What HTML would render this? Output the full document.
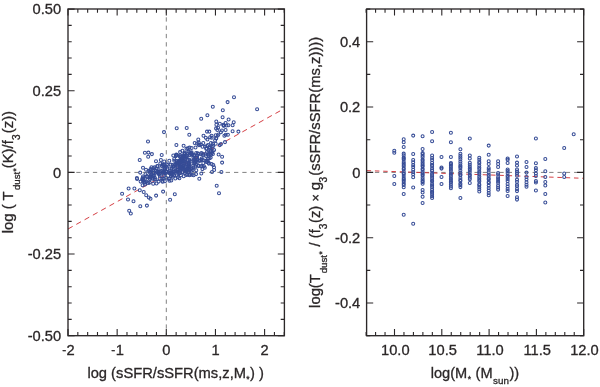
<!DOCTYPE html>
<html lang="en"><head><meta charset="utf-8"><title>Dust temperature scaling relations</title>
<style>html,body{margin:0;padding:0;background:#fff;overflow:hidden}body{width:600px;height:387px}svg{display:block;will-change:transform}</style>
</head><body>
<svg width="600" height="387" viewBox="0 0 600 387" style="display:block">
<rect width="600" height="387" fill="#fff"/>
<g fill="none" stroke-width="1">
<path d="M68.0 172.40H284.4M166.30 9.0V335.7" stroke="#808080" stroke-dasharray="4.3 4.0"/>
<path d="M366.6 172.40H583.7" stroke="#808080" stroke-dasharray="4.3 4.0"/>
<path d="M68.0 229L284.4 108.5" stroke="#d2353a" stroke-width="0.95" stroke-dasharray="5.3 4.2"/>
<path d="M366.6 170.6L583.7 178.3" stroke="#d2353a" stroke-width="0.95" stroke-dasharray="4.5 3.8"/>
</g>
<g fill="none" stroke="#364c96" stroke-width="1.05">
<circle cx="176.7" cy="128.3" r="1.5"/>
<circle cx="186.7" cy="128.0" r="1.5"/>
<circle cx="164.0" cy="132.1" r="1.5"/>
<circle cx="189.3" cy="134.7" r="1.5"/>
<circle cx="148.0" cy="141.4" r="1.5"/>
<circle cx="176.4" cy="145.0" r="1.5"/>
<circle cx="183.6" cy="145.8" r="1.5"/>
<circle cx="144.9" cy="152.8" r="1.5"/>
<circle cx="148.4" cy="152.6" r="1.5"/>
<circle cx="151.9" cy="154.1" r="1.5"/>
<circle cx="148.2" cy="156.7" r="1.5"/>
<circle cx="161.7" cy="154.9" r="1.5"/>
<circle cx="139.7" cy="160.0" r="1.5"/>
<circle cx="156.0" cy="161.3" r="1.5"/>
<circle cx="160.9" cy="160.0" r="1.5"/>
<circle cx="143.0" cy="167.8" r="1.5"/>
<circle cx="150.6" cy="169.1" r="1.5"/>
<circle cx="137.1" cy="178.9" r="1.5"/>
<circle cx="128.6" cy="188.4" r="1.5"/>
<circle cx="134.4" cy="188.4" r="1.5"/>
<circle cx="122.1" cy="193.8" r="1.5"/>
<circle cx="128.0" cy="199.5" r="1.5"/>
<circle cx="133.5" cy="201.3" r="1.5"/>
<circle cx="140.3" cy="206.2" r="1.5"/>
<circle cx="146.9" cy="205.6" r="1.5"/>
<circle cx="129.2" cy="210.7" r="1.5"/>
<circle cx="130.8" cy="213.5" r="1.5"/>
<circle cx="170.1" cy="199.7" r="1.5"/>
<circle cx="174.8" cy="194.2" r="1.5"/>
<circle cx="156.1" cy="195.6" r="1.5"/>
<circle cx="163.1" cy="191.6" r="1.5"/>
<circle cx="148.8" cy="197.5" r="1.5"/>
<circle cx="234.0" cy="97.2" r="1.5"/>
<circle cx="227.6" cy="102.1" r="1.5"/>
<circle cx="257.1" cy="109.3" r="1.5"/>
<circle cx="212.8" cy="106.7" r="1.5"/>
<circle cx="222.8" cy="110.2" r="1.5"/>
<circle cx="207.4" cy="115.3" r="1.5"/>
<circle cx="201.2" cy="118.8" r="1.5"/>
<circle cx="222.6" cy="117.2" r="1.5"/>
<circle cx="228.6" cy="119.5" r="1.5"/>
<circle cx="216.3" cy="121.4" r="1.5"/>
<circle cx="233.7" cy="122.3" r="1.5"/>
<circle cx="219.8" cy="123.7" r="1.5"/>
<circle cx="223.3" cy="124.7" r="1.5"/>
<circle cx="225.6" cy="123.0" r="1.5"/>
<circle cx="228.4" cy="125.3" r="1.5"/>
<circle cx="232.6" cy="125.3" r="1.5"/>
<circle cx="218.1" cy="127.7" r="1.5"/>
<circle cx="225.6" cy="130.0" r="1.5"/>
<circle cx="232.6" cy="131.2" r="1.5"/>
<circle cx="238.4" cy="131.6" r="1.5"/>
<circle cx="207.0" cy="131.6" r="1.5"/>
<circle cx="209.3" cy="131.6" r="1.5"/>
<circle cx="217.4" cy="130.0" r="1.5"/>
<circle cx="220.9" cy="132.3" r="1.5"/>
<circle cx="224.4" cy="135.8" r="1.5"/>
<circle cx="227.9" cy="134.7" r="1.5"/>
<circle cx="203.5" cy="135.8" r="1.5"/>
<circle cx="205.8" cy="137.7" r="1.5"/>
<circle cx="211.6" cy="135.8" r="1.5"/>
<circle cx="215.1" cy="140.5" r="1.5"/>
<circle cx="216.3" cy="138.1" r="1.5"/>
<circle cx="219.8" cy="145.1" r="1.5"/>
<circle cx="221.0" cy="144.0" r="1.5"/>
<circle cx="218.6" cy="154.4" r="1.5"/>
<circle cx="222.1" cy="156.7" r="1.5"/>
<circle cx="222.1" cy="162.6" r="1.5"/>
<circle cx="214.0" cy="167.2" r="1.5"/>
<circle cx="216.7" cy="185.8" r="1.5"/>
<circle cx="219.0" cy="193.3" r="1.5"/>
<circle cx="221.4" cy="171.9" r="1.5"/>
<circle cx="212.0" cy="172.0" r="1.5"/>
<circle cx="213.3" cy="165.0" r="1.5"/>
<circle cx="199.3" cy="178.8" r="1.5"/>
<circle cx="144.9" cy="179.0" r="1.5"/>
<circle cx="142.6" cy="185.3" r="1.5"/>
<circle cx="139.8" cy="190.2" r="1.5"/>
<circle cx="143.7" cy="191.9" r="1.5"/>
<circle cx="140.2" cy="172.6" r="1.5"/>
<circle cx="146.0" cy="169.8" r="1.5"/>
<circle cx="226.5" cy="125.5" r="1.5"/>
<circle cx="221.9" cy="130.5" r="1.5"/>
<circle cx="215.7" cy="135.2" r="1.5"/>
<circle cx="225.7" cy="134.8" r="1.5"/>
<circle cx="198.3" cy="139.5" r="1.5"/>
<circle cx="194.7" cy="143.0" r="1.5"/>
<circle cx="203.3" cy="143.0" r="1.5"/>
<circle cx="215.7" cy="143.7" r="1.5"/>
<circle cx="225.0" cy="142.1" r="1.5"/>
<circle cx="187.8" cy="148.3" r="1.5"/>
<circle cx="191.6" cy="147.9" r="1.5"/>
<circle cx="202.5" cy="146.8" r="1.5"/>
<circle cx="207.1" cy="146.0" r="1.5"/>
<circle cx="213.3" cy="146.0" r="1.5"/>
<circle cx="214.1" cy="149.9" r="1.5"/>
<circle cx="146.2" cy="195.2" r="1.5"/>
<circle cx="150.5" cy="198.8" r="1.5"/>
<circle cx="214.1" cy="170.0" r="1.5"/>
<circle cx="208.7" cy="162.8" r="1.5"/>
<circle cx="203.3" cy="163.0" r="1.5"/>
<circle cx="204.8" cy="167.7" r="1.5"/>
<circle cx="136.9" cy="178.0" r="1.5"/>
<circle cx="197.2" cy="159.5" r="1.5"/>
<circle cx="178.4" cy="172.8" r="1.5"/>
<circle cx="206.5" cy="160.6" r="1.5"/>
<circle cx="184.2" cy="156.2" r="1.5"/>
<circle cx="184.7" cy="153.3" r="1.5"/>
<circle cx="198.7" cy="166.1" r="1.5"/>
<circle cx="176.3" cy="154.5" r="1.5"/>
<circle cx="179.9" cy="160.4" r="1.5"/>
<circle cx="180.2" cy="155.5" r="1.5"/>
<circle cx="175.0" cy="165.1" r="1.5"/>
<circle cx="151.2" cy="174.3" r="1.5"/>
<circle cx="211.1" cy="154.4" r="1.5"/>
<circle cx="189.4" cy="175.2" r="1.5"/>
<circle cx="163.2" cy="165.8" r="1.5"/>
<circle cx="158.1" cy="173.3" r="1.5"/>
<circle cx="212.7" cy="151.0" r="1.5"/>
<circle cx="165.7" cy="166.6" r="1.5"/>
<circle cx="177.8" cy="170.0" r="1.5"/>
<circle cx="196.0" cy="161.6" r="1.5"/>
<circle cx="190.1" cy="174.5" r="1.5"/>
<circle cx="204.0" cy="166.2" r="1.5"/>
<circle cx="184.1" cy="160.6" r="1.5"/>
<circle cx="189.2" cy="159.8" r="1.5"/>
<circle cx="198.7" cy="142.6" r="1.5"/>
<circle cx="195.0" cy="160.1" r="1.5"/>
<circle cx="175.3" cy="178.5" r="1.5"/>
<circle cx="157.6" cy="166.2" r="1.5"/>
<circle cx="182.4" cy="167.3" r="1.5"/>
<circle cx="179.4" cy="178.3" r="1.5"/>
<circle cx="153.2" cy="183.7" r="1.5"/>
<circle cx="172.8" cy="176.8" r="1.5"/>
<circle cx="188.9" cy="163.5" r="1.5"/>
<circle cx="143.6" cy="180.0" r="1.5"/>
<circle cx="176.9" cy="165.6" r="1.5"/>
<circle cx="178.8" cy="163.9" r="1.5"/>
<circle cx="164.9" cy="181.2" r="1.5"/>
<circle cx="159.7" cy="175.5" r="1.5"/>
<circle cx="182.3" cy="159.1" r="1.5"/>
<circle cx="206.6" cy="148.5" r="1.5"/>
<circle cx="182.8" cy="160.8" r="1.5"/>
<circle cx="178.5" cy="161.1" r="1.5"/>
<circle cx="179.7" cy="163.1" r="1.5"/>
<circle cx="165.3" cy="167.9" r="1.5"/>
<circle cx="177.1" cy="163.4" r="1.5"/>
<circle cx="209.5" cy="158.2" r="1.5"/>
<circle cx="188.1" cy="165.8" r="1.5"/>
<circle cx="201.2" cy="166.1" r="1.5"/>
<circle cx="151.5" cy="167.2" r="1.5"/>
<circle cx="154.8" cy="177.7" r="1.5"/>
<circle cx="176.6" cy="161.5" r="1.5"/>
<circle cx="148.5" cy="171.1" r="1.5"/>
<circle cx="193.5" cy="167.5" r="1.5"/>
<circle cx="190.1" cy="155.3" r="1.5"/>
<circle cx="181.5" cy="158.2" r="1.5"/>
<circle cx="200.8" cy="144.6" r="1.5"/>
<circle cx="183.0" cy="165.8" r="1.5"/>
<circle cx="211.7" cy="137.8" r="1.5"/>
<circle cx="183.2" cy="165.9" r="1.5"/>
<circle cx="185.0" cy="158.9" r="1.5"/>
<circle cx="148.1" cy="182.9" r="1.5"/>
<circle cx="197.7" cy="153.3" r="1.5"/>
<circle cx="158.6" cy="171.5" r="1.5"/>
<circle cx="162.5" cy="164.6" r="1.5"/>
<circle cx="180.8" cy="165.3" r="1.5"/>
<circle cx="208.0" cy="158.7" r="1.5"/>
<circle cx="171.6" cy="168.9" r="1.5"/>
<circle cx="152.6" cy="175.9" r="1.5"/>
<circle cx="156.5" cy="183.4" r="1.5"/>
<circle cx="171.6" cy="172.7" r="1.5"/>
<circle cx="149.7" cy="179.0" r="1.5"/>
<circle cx="187.5" cy="168.8" r="1.5"/>
<circle cx="162.5" cy="172.4" r="1.5"/>
<circle cx="177.9" cy="162.9" r="1.5"/>
<circle cx="196.2" cy="153.0" r="1.5"/>
<circle cx="208.3" cy="154.2" r="1.5"/>
<circle cx="177.0" cy="154.9" r="1.5"/>
<circle cx="186.5" cy="157.3" r="1.5"/>
<circle cx="193.9" cy="159.7" r="1.5"/>
<circle cx="178.0" cy="177.1" r="1.5"/>
<circle cx="180.3" cy="167.0" r="1.5"/>
<circle cx="186.2" cy="169.7" r="1.5"/>
<circle cx="201.0" cy="154.2" r="1.5"/>
<circle cx="166.1" cy="177.8" r="1.5"/>
<circle cx="185.8" cy="156.3" r="1.5"/>
<circle cx="151.6" cy="174.2" r="1.5"/>
<circle cx="158.1" cy="172.3" r="1.5"/>
<circle cx="179.8" cy="156.8" r="1.5"/>
<circle cx="158.5" cy="168.9" r="1.5"/>
<circle cx="185.0" cy="173.1" r="1.5"/>
<circle cx="188.9" cy="165.7" r="1.5"/>
<circle cx="176.5" cy="160.9" r="1.5"/>
<circle cx="212.7" cy="143.8" r="1.5"/>
<circle cx="151.0" cy="175.5" r="1.5"/>
<circle cx="150.0" cy="178.8" r="1.5"/>
<circle cx="185.1" cy="167.9" r="1.5"/>
<circle cx="187.5" cy="174.5" r="1.5"/>
<circle cx="145.0" cy="184.4" r="1.5"/>
<circle cx="207.0" cy="151.9" r="1.5"/>
<circle cx="142.3" cy="178.7" r="1.5"/>
<circle cx="179.5" cy="162.3" r="1.5"/>
<circle cx="181.6" cy="168.7" r="1.5"/>
<circle cx="187.9" cy="160.0" r="1.5"/>
<circle cx="164.5" cy="167.6" r="1.5"/>
<circle cx="203.1" cy="153.7" r="1.5"/>
<circle cx="166.2" cy="171.3" r="1.5"/>
<circle cx="191.5" cy="170.8" r="1.5"/>
<circle cx="177.3" cy="166.4" r="1.5"/>
<circle cx="169.5" cy="173.0" r="1.5"/>
<circle cx="175.9" cy="156.1" r="1.5"/>
<circle cx="142.6" cy="179.4" r="1.5"/>
<circle cx="210.2" cy="149.4" r="1.5"/>
<circle cx="189.1" cy="171.8" r="1.5"/>
<circle cx="195.5" cy="147.5" r="1.5"/>
<circle cx="184.6" cy="163.2" r="1.5"/>
<circle cx="182.4" cy="150.8" r="1.5"/>
<circle cx="163.8" cy="174.8" r="1.5"/>
<circle cx="188.2" cy="163.9" r="1.5"/>
<circle cx="171.3" cy="180.4" r="1.5"/>
<circle cx="197.2" cy="157.8" r="1.5"/>
<circle cx="174.3" cy="160.7" r="1.5"/>
<circle cx="167.5" cy="164.9" r="1.5"/>
<circle cx="173.5" cy="171.7" r="1.5"/>
<circle cx="180.7" cy="161.6" r="1.5"/>
<circle cx="169.6" cy="168.5" r="1.5"/>
<circle cx="143.0" cy="176.4" r="1.5"/>
<circle cx="187.3" cy="156.0" r="1.5"/>
<circle cx="176.8" cy="175.5" r="1.5"/>
<circle cx="149.9" cy="172.6" r="1.5"/>
<circle cx="146.4" cy="181.7" r="1.5"/>
<circle cx="181.1" cy="167.5" r="1.5"/>
<circle cx="191.6" cy="152.3" r="1.5"/>
<circle cx="196.3" cy="170.3" r="1.5"/>
<circle cx="163.6" cy="172.0" r="1.5"/>
<circle cx="208.4" cy="152.4" r="1.5"/>
<circle cx="206.0" cy="155.9" r="1.5"/>
<circle cx="177.5" cy="171.7" r="1.5"/>
<circle cx="174.1" cy="175.1" r="1.5"/>
<circle cx="189.6" cy="167.2" r="1.5"/>
<circle cx="160.3" cy="163.5" r="1.5"/>
<circle cx="197.3" cy="155.4" r="1.5"/>
<circle cx="171.6" cy="173.5" r="1.5"/>
<circle cx="193.4" cy="157.7" r="1.5"/>
<circle cx="159.7" cy="173.6" r="1.5"/>
<circle cx="145.2" cy="182.5" r="1.5"/>
<circle cx="165.6" cy="173.6" r="1.5"/>
<circle cx="173.3" cy="155.4" r="1.5"/>
<circle cx="150.8" cy="170.3" r="1.5"/>
<circle cx="183.5" cy="157.0" r="1.5"/>
<circle cx="174.2" cy="159.0" r="1.5"/>
<circle cx="145.5" cy="174.3" r="1.5"/>
<circle cx="188.2" cy="163.0" r="1.5"/>
<circle cx="156.8" cy="168.6" r="1.5"/>
<circle cx="173.2" cy="173.6" r="1.5"/>
<circle cx="192.1" cy="154.4" r="1.5"/>
<circle cx="177.4" cy="169.9" r="1.5"/>
<circle cx="182.3" cy="161.6" r="1.5"/>
<circle cx="186.4" cy="175.0" r="1.5"/>
<circle cx="182.1" cy="167.3" r="1.5"/>
<circle cx="203.4" cy="160.2" r="1.5"/>
<circle cx="180.7" cy="159.4" r="1.5"/>
<circle cx="177.3" cy="167.4" r="1.5"/>
<circle cx="188.5" cy="151.6" r="1.5"/>
<circle cx="180.3" cy="169.5" r="1.5"/>
<circle cx="164.6" cy="173.3" r="1.5"/>
<circle cx="170.6" cy="164.6" r="1.5"/>
<circle cx="189.2" cy="170.1" r="1.5"/>
<circle cx="140.6" cy="181.6" r="1.5"/>
<circle cx="188.9" cy="162.9" r="1.5"/>
<circle cx="158.8" cy="174.1" r="1.5"/>
<circle cx="176.2" cy="155.1" r="1.5"/>
<circle cx="189.1" cy="166.3" r="1.5"/>
<circle cx="144.2" cy="182.5" r="1.5"/>
<circle cx="202.4" cy="169.1" r="1.5"/>
<circle cx="156.1" cy="170.7" r="1.5"/>
<circle cx="162.2" cy="180.7" r="1.5"/>
<circle cx="173.5" cy="166.2" r="1.5"/>
<circle cx="192.8" cy="170.1" r="1.5"/>
<circle cx="203.2" cy="155.2" r="1.5"/>
<circle cx="201.8" cy="158.4" r="1.5"/>
<circle cx="183.0" cy="167.8" r="1.5"/>
<circle cx="161.2" cy="171.3" r="1.5"/>
<circle cx="186.5" cy="148.7" r="1.5"/>
<circle cx="198.2" cy="165.5" r="1.5"/>
<circle cx="194.0" cy="156.1" r="1.5"/>
<circle cx="183.3" cy="155.8" r="1.5"/>
<circle cx="207.1" cy="162.0" r="1.5"/>
<circle cx="181.5" cy="167.5" r="1.5"/>
<circle cx="159.7" cy="178.5" r="1.5"/>
<circle cx="175.5" cy="164.4" r="1.5"/>
<circle cx="153.3" cy="175.4" r="1.5"/>
<circle cx="186.5" cy="155.2" r="1.5"/>
<circle cx="143.1" cy="178.0" r="1.5"/>
<circle cx="199.0" cy="145.3" r="1.5"/>
<circle cx="180.9" cy="156.4" r="1.5"/>
<circle cx="191.9" cy="174.7" r="1.5"/>
<circle cx="169.3" cy="160.8" r="1.5"/>
<circle cx="169.5" cy="180.8" r="1.5"/>
<circle cx="185.2" cy="169.3" r="1.5"/>
<circle cx="162.4" cy="178.6" r="1.5"/>
<circle cx="209.5" cy="153.9" r="1.5"/>
<circle cx="174.4" cy="171.9" r="1.5"/>
<circle cx="189.4" cy="152.3" r="1.5"/>
<circle cx="181.4" cy="158.6" r="1.5"/>
<circle cx="164.2" cy="161.4" r="1.5"/>
<circle cx="194.5" cy="163.6" r="1.5"/>
<circle cx="164.6" cy="172.2" r="1.5"/>
<circle cx="208.0" cy="144.9" r="1.5"/>
<circle cx="189.8" cy="160.4" r="1.5"/>
<circle cx="208.5" cy="155.4" r="1.5"/>
<circle cx="154.7" cy="179.7" r="1.5"/>
<circle cx="176.3" cy="163.0" r="1.5"/>
<circle cx="191.4" cy="153.3" r="1.5"/>
<circle cx="182.8" cy="157.5" r="1.5"/>
<circle cx="196.0" cy="157.8" r="1.5"/>
<circle cx="212.9" cy="154.0" r="1.5"/>
<circle cx="171.0" cy="176.2" r="1.5"/>
<circle cx="171.6" cy="170.7" r="1.5"/>
<circle cx="193.3" cy="165.8" r="1.5"/>
<circle cx="162.2" cy="170.4" r="1.5"/>
<circle cx="195.3" cy="166.4" r="1.5"/>
<circle cx="157.0" cy="171.9" r="1.5"/>
<circle cx="194.2" cy="154.9" r="1.5"/>
<circle cx="201.3" cy="173.4" r="1.5"/>
<circle cx="197.1" cy="143.4" r="1.5"/>
<circle cx="171.7" cy="174.5" r="1.5"/>
<circle cx="190.0" cy="153.4" r="1.5"/>
<circle cx="147.0" cy="176.0" r="1.5"/>
<circle cx="206.2" cy="148.7" r="1.5"/>
<circle cx="182.0" cy="158.2" r="1.5"/>
<circle cx="168.8" cy="178.9" r="1.5"/>
<circle cx="149.5" cy="177.1" r="1.5"/>
<circle cx="183.0" cy="166.3" r="1.5"/>
<circle cx="184.5" cy="153.7" r="1.5"/>
<circle cx="184.8" cy="154.0" r="1.5"/>
<circle cx="153.4" cy="168.1" r="1.5"/>
<circle cx="186.1" cy="170.4" r="1.5"/>
<circle cx="153.3" cy="169.4" r="1.5"/>
<circle cx="211.8" cy="146.6" r="1.5"/>
<circle cx="182.1" cy="167.6" r="1.5"/>
<circle cx="163.8" cy="178.4" r="1.5"/>
<circle cx="190.9" cy="161.4" r="1.5"/>
<circle cx="201.4" cy="153.0" r="1.5"/>
<circle cx="154.3" cy="175.2" r="1.5"/>
<circle cx="199.5" cy="144.8" r="1.5"/>
<circle cx="179.9" cy="166.3" r="1.5"/>
<circle cx="211.1" cy="150.9" r="1.5"/>
<circle cx="201.4" cy="159.9" r="1.5"/>
<circle cx="155.5" cy="179.2" r="1.5"/>
<circle cx="152.3" cy="178.6" r="1.5"/>
<circle cx="165.0" cy="169.1" r="1.5"/>
<circle cx="147.2" cy="177.1" r="1.5"/>
<circle cx="167.7" cy="169.2" r="1.5"/>
<circle cx="171.0" cy="175.9" r="1.5"/>
<circle cx="182.2" cy="171.8" r="1.5"/>
<circle cx="197.8" cy="161.7" r="1.5"/>
<circle cx="189.9" cy="169.6" r="1.5"/>
<circle cx="161.8" cy="166.0" r="1.5"/>
<circle cx="168.4" cy="172.4" r="1.5"/>
<circle cx="149.6" cy="170.9" r="1.5"/>
<circle cx="173.8" cy="169.1" r="1.5"/>
<circle cx="185.7" cy="169.4" r="1.5"/>
<circle cx="156.9" cy="172.3" r="1.5"/>
<circle cx="185.0" cy="161.4" r="1.5"/>
<circle cx="199.7" cy="160.4" r="1.5"/>
<circle cx="172.6" cy="165.1" r="1.5"/>
<circle cx="178.0" cy="170.0" r="1.5"/>
<circle cx="200.0" cy="160.8" r="1.5"/>
<circle cx="183.4" cy="162.9" r="1.5"/>
<circle cx="184.2" cy="164.5" r="1.5"/>
<circle cx="188.7" cy="167.9" r="1.5"/>
<circle cx="208.8" cy="163.6" r="1.5"/>
<circle cx="185.6" cy="166.8" r="1.5"/>
<circle cx="149.7" cy="182.6" r="1.5"/>
<circle cx="158.6" cy="181.6" r="1.5"/>
<circle cx="210.7" cy="157.6" r="1.5"/>
<circle cx="196.0" cy="164.7" r="1.5"/>
<circle cx="179.7" cy="173.3" r="1.5"/>
<circle cx="194.2" cy="162.9" r="1.5"/>
<circle cx="182.9" cy="172.3" r="1.5"/>
<circle cx="184.8" cy="152.4" r="1.5"/>
<circle cx="142.8" cy="179.8" r="1.5"/>
<circle cx="180.5" cy="167.8" r="1.5"/>
<circle cx="166.3" cy="171.7" r="1.5"/>
<circle cx="198.4" cy="153.9" r="1.5"/>
<circle cx="188.7" cy="165.0" r="1.5"/>
<circle cx="183.7" cy="176.3" r="1.5"/>
<circle cx="180.2" cy="162.7" r="1.5"/>
<circle cx="159.7" cy="173.7" r="1.5"/>
<circle cx="194.4" cy="162.0" r="1.5"/>
<circle cx="176.5" cy="171.5" r="1.5"/>
<circle cx="209.8" cy="147.7" r="1.5"/>
<circle cx="187.1" cy="169.2" r="1.5"/>
<circle cx="169.8" cy="172.9" r="1.5"/>
<circle cx="188.0" cy="167.9" r="1.5"/>
<circle cx="180.9" cy="175.3" r="1.5"/>
<circle cx="201.7" cy="159.7" r="1.5"/>
<circle cx="195.7" cy="160.1" r="1.5"/>
<circle cx="205.2" cy="146.6" r="1.5"/>
<circle cx="196.3" cy="157.3" r="1.5"/>
<circle cx="180.1" cy="152.1" r="1.5"/>
<circle cx="184.3" cy="161.4" r="1.5"/>
<circle cx="175.5" cy="170.8" r="1.5"/>
<circle cx="211.0" cy="143.0" r="1.5"/>
<circle cx="153.4" cy="173.1" r="1.5"/>
<circle cx="189.5" cy="147.6" r="1.5"/>
<circle cx="206.6" cy="161.9" r="1.5"/>
<circle cx="191.0" cy="153.1" r="1.5"/>
<circle cx="210.1" cy="137.2" r="1.5"/>
<circle cx="188.3" cy="172.1" r="1.5"/>
<circle cx="187.6" cy="169.5" r="1.5"/>
<circle cx="191.5" cy="154.3" r="1.5"/>
<circle cx="162.6" cy="170.4" r="1.5"/>
<circle cx="157.3" cy="166.0" r="1.5"/>
<circle cx="211.6" cy="164.1" r="1.5"/>
<circle cx="153.0" cy="177.5" r="1.5"/>
<circle cx="150.7" cy="177.4" r="1.5"/>
<circle cx="173.3" cy="166.8" r="1.5"/>
<circle cx="205.3" cy="154.5" r="1.5"/>
<circle cx="162.6" cy="181.7" r="1.5"/>
<circle cx="189.7" cy="165.1" r="1.5"/>
<circle cx="202.5" cy="166.0" r="1.5"/>
<circle cx="179.7" cy="172.9" r="1.5"/>
<circle cx="184.1" cy="157.6" r="1.5"/>
<circle cx="185.7" cy="171.0" r="1.5"/>
<circle cx="163.8" cy="164.8" r="1.5"/>
<circle cx="196.1" cy="174.1" r="1.5"/>
<circle cx="191.8" cy="168.7" r="1.5"/>
<circle cx="181.9" cy="169.6" r="1.5"/>
<circle cx="193.6" cy="175.2" r="1.5"/>
<circle cx="212.1" cy="152.8" r="1.5"/>
<circle cx="171.2" cy="173.2" r="1.5"/>
<circle cx="207.6" cy="160.8" r="1.5"/>
<circle cx="210.2" cy="147.6" r="1.5"/>
<circle cx="154.5" cy="167.3" r="1.5"/>
<circle cx="181.9" cy="161.2" r="1.5"/>
<circle cx="169.6" cy="178.3" r="1.5"/>
<circle cx="143.4" cy="181.0" r="1.5"/>
<circle cx="180.2" cy="161.8" r="1.5"/>
<circle cx="153.3" cy="172.8" r="1.5"/>
<circle cx="166.8" cy="164.2" r="1.5"/>
<circle cx="217.7" cy="135.5" r="1.5"/>
<circle cx="216.1" cy="138.5" r="1.5"/>
<circle cx="218.4" cy="134.5" r="1.5"/>
<circle cx="216.4" cy="124.7" r="1.5"/>
<circle cx="216.1" cy="128.4" r="1.5"/>
<circle cx="207.4" cy="139.5" r="1.5"/>
<circle cx="224.0" cy="125.4" r="1.5"/>
<circle cx="223.6" cy="125.7" r="1.5"/>
</g>
<g fill="none" stroke="#364c96" stroke-width="1.05">
<circle cx="394.3" cy="150.7" r="1.5"/>
<circle cx="394.3" cy="152.7" r="1.5"/>
<circle cx="394.3" cy="176.0" r="1.5"/>
<circle cx="394.3" cy="184.0" r="1.5"/>
<circle cx="403.7" cy="139.3" r="1.5"/>
<circle cx="403.7" cy="142.2" r="1.5"/>
<circle cx="403.7" cy="147.0" r="1.5"/>
<circle cx="403.7" cy="153.6" r="1.5"/>
<circle cx="403.7" cy="155.2" r="1.5"/>
<circle cx="403.7" cy="157.6" r="1.5"/>
<circle cx="403.7" cy="158.6" r="1.5"/>
<circle cx="403.7" cy="159.8" r="1.5"/>
<circle cx="403.7" cy="161.9" r="1.5"/>
<circle cx="403.7" cy="163.6" r="1.5"/>
<circle cx="403.7" cy="165.0" r="1.5"/>
<circle cx="403.7" cy="166.2" r="1.5"/>
<circle cx="403.7" cy="168.2" r="1.5"/>
<circle cx="403.7" cy="169.3" r="1.5"/>
<circle cx="403.7" cy="171.5" r="1.5"/>
<circle cx="403.7" cy="173.3" r="1.5"/>
<circle cx="403.7" cy="174.0" r="1.5"/>
<circle cx="403.7" cy="176.1" r="1.5"/>
<circle cx="403.7" cy="177.9" r="1.5"/>
<circle cx="403.7" cy="179.3" r="1.5"/>
<circle cx="403.7" cy="180.4" r="1.5"/>
<circle cx="403.7" cy="181.9" r="1.5"/>
<circle cx="403.7" cy="183.8" r="1.5"/>
<circle cx="403.7" cy="185.0" r="1.5"/>
<circle cx="403.7" cy="187.3" r="1.5"/>
<circle cx="403.7" cy="194.0" r="1.5"/>
<circle cx="403.7" cy="214.7" r="1.5"/>
<circle cx="413.2" cy="135.6" r="1.5"/>
<circle cx="413.2" cy="154.0" r="1.5"/>
<circle cx="413.2" cy="160.0" r="1.5"/>
<circle cx="413.2" cy="162.2" r="1.5"/>
<circle cx="413.2" cy="165.1" r="1.5"/>
<circle cx="413.2" cy="167.0" r="1.5"/>
<circle cx="413.2" cy="169.7" r="1.5"/>
<circle cx="413.2" cy="172.1" r="1.5"/>
<circle cx="413.2" cy="174.2" r="1.5"/>
<circle cx="413.2" cy="177.3" r="1.5"/>
<circle cx="413.2" cy="187.4" r="1.5"/>
<circle cx="413.2" cy="223.8" r="1.5"/>
<circle cx="422.6" cy="136.2" r="1.5"/>
<circle cx="422.6" cy="149.0" r="1.5"/>
<circle cx="422.6" cy="152.9" r="1.5"/>
<circle cx="422.6" cy="154.0" r="1.5"/>
<circle cx="422.6" cy="155.8" r="1.5"/>
<circle cx="422.6" cy="157.2" r="1.5"/>
<circle cx="422.6" cy="159.4" r="1.5"/>
<circle cx="422.6" cy="160.7" r="1.5"/>
<circle cx="422.6" cy="162.5" r="1.5"/>
<circle cx="422.6" cy="163.9" r="1.5"/>
<circle cx="422.6" cy="165.5" r="1.5"/>
<circle cx="422.6" cy="166.6" r="1.5"/>
<circle cx="422.6" cy="168.7" r="1.5"/>
<circle cx="422.6" cy="169.7" r="1.5"/>
<circle cx="422.6" cy="171.8" r="1.5"/>
<circle cx="422.6" cy="173.3" r="1.5"/>
<circle cx="422.6" cy="174.6" r="1.5"/>
<circle cx="422.6" cy="175.8" r="1.5"/>
<circle cx="422.6" cy="177.8" r="1.5"/>
<circle cx="422.6" cy="179.4" r="1.5"/>
<circle cx="422.6" cy="181.1" r="1.5"/>
<circle cx="422.6" cy="182.0" r="1.5"/>
<circle cx="422.6" cy="183.7" r="1.5"/>
<circle cx="422.6" cy="190.0" r="1.5"/>
<circle cx="422.6" cy="192.5" r="1.5"/>
<circle cx="422.6" cy="196.7" r="1.5"/>
<circle cx="422.6" cy="203.0" r="1.5"/>
<circle cx="432.1" cy="132.0" r="1.5"/>
<circle cx="432.1" cy="141.3" r="1.5"/>
<circle cx="432.1" cy="155.5" r="1.5"/>
<circle cx="432.1" cy="158.0" r="1.5"/>
<circle cx="432.1" cy="160.0" r="1.5"/>
<circle cx="432.1" cy="162.7" r="1.5"/>
<circle cx="432.1" cy="164.7" r="1.5"/>
<circle cx="432.1" cy="165.9" r="1.5"/>
<circle cx="432.1" cy="168.3" r="1.5"/>
<circle cx="432.1" cy="170.2" r="1.5"/>
<circle cx="432.1" cy="171.0" r="1.5"/>
<circle cx="432.1" cy="173.4" r="1.5"/>
<circle cx="432.1" cy="174.9" r="1.5"/>
<circle cx="432.1" cy="176.4" r="1.5"/>
<circle cx="432.1" cy="178.3" r="1.5"/>
<circle cx="432.1" cy="180.2" r="1.5"/>
<circle cx="432.1" cy="181.6" r="1.5"/>
<circle cx="432.1" cy="184.0" r="1.5"/>
<circle cx="432.1" cy="185.6" r="1.5"/>
<circle cx="432.1" cy="187.2" r="1.5"/>
<circle cx="432.1" cy="189.5" r="1.5"/>
<circle cx="432.1" cy="191.4" r="1.5"/>
<circle cx="432.1" cy="192.6" r="1.5"/>
<circle cx="432.1" cy="194.3" r="1.5"/>
<circle cx="432.1" cy="196.3" r="1.5"/>
<circle cx="432.1" cy="197.9" r="1.5"/>
<circle cx="441.5" cy="157.0" r="1.5"/>
<circle cx="441.5" cy="167.5" r="1.5"/>
<circle cx="441.5" cy="168.6" r="1.5"/>
<circle cx="441.5" cy="177.0" r="1.5"/>
<circle cx="441.5" cy="184.0" r="1.5"/>
<circle cx="450.9" cy="132.8" r="1.5"/>
<circle cx="450.9" cy="142.2" r="1.5"/>
<circle cx="450.9" cy="157.0" r="1.5"/>
<circle cx="450.9" cy="163.0" r="1.5"/>
<circle cx="450.9" cy="164.1" r="1.5"/>
<circle cx="450.9" cy="165.6" r="1.5"/>
<circle cx="450.9" cy="167.2" r="1.5"/>
<circle cx="450.9" cy="169.0" r="1.5"/>
<circle cx="450.9" cy="170.7" r="1.5"/>
<circle cx="450.9" cy="173.2" r="1.5"/>
<circle cx="450.9" cy="174.6" r="1.5"/>
<circle cx="450.9" cy="176.2" r="1.5"/>
<circle cx="450.9" cy="178.3" r="1.5"/>
<circle cx="450.9" cy="179.7" r="1.5"/>
<circle cx="450.9" cy="181.4" r="1.5"/>
<circle cx="450.9" cy="182.6" r="1.5"/>
<circle cx="450.9" cy="184.4" r="1.5"/>
<circle cx="450.9" cy="186.4" r="1.5"/>
<circle cx="450.9" cy="188.3" r="1.5"/>
<circle cx="460.4" cy="149.3" r="1.5"/>
<circle cx="460.4" cy="153.8" r="1.5"/>
<circle cx="460.4" cy="155.8" r="1.5"/>
<circle cx="460.4" cy="157.4" r="1.5"/>
<circle cx="460.4" cy="159.3" r="1.5"/>
<circle cx="460.4" cy="161.4" r="1.5"/>
<circle cx="460.4" cy="163.5" r="1.5"/>
<circle cx="460.4" cy="165.4" r="1.5"/>
<circle cx="460.4" cy="166.8" r="1.5"/>
<circle cx="460.4" cy="168.1" r="1.5"/>
<circle cx="460.4" cy="170.2" r="1.5"/>
<circle cx="460.4" cy="172.4" r="1.5"/>
<circle cx="460.4" cy="174.5" r="1.5"/>
<circle cx="460.4" cy="175.5" r="1.5"/>
<circle cx="460.4" cy="178.0" r="1.5"/>
<circle cx="460.4" cy="179.9" r="1.5"/>
<circle cx="460.4" cy="180.9" r="1.5"/>
<circle cx="460.4" cy="183.6" r="1.5"/>
<circle cx="460.4" cy="185.1" r="1.5"/>
<circle cx="460.4" cy="187.1" r="1.5"/>
<circle cx="460.4" cy="198.0" r="1.5"/>
<circle cx="469.8" cy="138.5" r="1.5"/>
<circle cx="469.8" cy="155.5" r="1.5"/>
<circle cx="469.8" cy="158.4" r="1.5"/>
<circle cx="469.8" cy="162.8" r="1.5"/>
<circle cx="469.8" cy="164.7" r="1.5"/>
<circle cx="469.8" cy="166.8" r="1.5"/>
<circle cx="469.8" cy="168.6" r="1.5"/>
<circle cx="469.8" cy="170.1" r="1.5"/>
<circle cx="469.8" cy="172.0" r="1.5"/>
<circle cx="469.8" cy="174.5" r="1.5"/>
<circle cx="469.8" cy="175.7" r="1.5"/>
<circle cx="469.8" cy="177.7" r="1.5"/>
<circle cx="469.8" cy="179.3" r="1.5"/>
<circle cx="469.8" cy="183.0" r="1.5"/>
<circle cx="479.3" cy="157.8" r="1.5"/>
<circle cx="479.3" cy="159.8" r="1.5"/>
<circle cx="479.3" cy="161.9" r="1.5"/>
<circle cx="479.3" cy="163.3" r="1.5"/>
<circle cx="479.3" cy="165.4" r="1.5"/>
<circle cx="479.3" cy="167.4" r="1.5"/>
<circle cx="479.3" cy="169.0" r="1.5"/>
<circle cx="479.3" cy="171.2" r="1.5"/>
<circle cx="479.3" cy="172.8" r="1.5"/>
<circle cx="479.3" cy="174.4" r="1.5"/>
<circle cx="479.3" cy="176.6" r="1.5"/>
<circle cx="479.3" cy="178.3" r="1.5"/>
<circle cx="479.3" cy="180.0" r="1.5"/>
<circle cx="479.3" cy="181.5" r="1.5"/>
<circle cx="479.3" cy="184.2" r="1.5"/>
<circle cx="479.3" cy="185.2" r="1.5"/>
<circle cx="479.3" cy="187.2" r="1.5"/>
<circle cx="479.3" cy="189.3" r="1.5"/>
<circle cx="479.3" cy="191.4" r="1.5"/>
<circle cx="488.7" cy="145.6" r="1.5"/>
<circle cx="488.7" cy="154.7" r="1.5"/>
<circle cx="488.7" cy="161.2" r="1.5"/>
<circle cx="488.7" cy="164.0" r="1.5"/>
<circle cx="488.7" cy="168.1" r="1.5"/>
<circle cx="488.7" cy="169.8" r="1.5"/>
<circle cx="488.7" cy="172.3" r="1.5"/>
<circle cx="488.7" cy="174.5" r="1.5"/>
<circle cx="488.7" cy="175.9" r="1.5"/>
<circle cx="488.7" cy="178.3" r="1.5"/>
<circle cx="488.7" cy="179.5" r="1.5"/>
<circle cx="488.7" cy="182.0" r="1.5"/>
<circle cx="488.7" cy="183.0" r="1.5"/>
<circle cx="488.7" cy="185.6" r="1.5"/>
<circle cx="488.7" cy="188.0" r="1.5"/>
<circle cx="488.7" cy="190.5" r="1.5"/>
<circle cx="488.7" cy="193.0" r="1.5"/>
<circle cx="488.7" cy="195.3" r="1.5"/>
<circle cx="498.1" cy="161.2" r="1.5"/>
<circle cx="498.1" cy="164.0" r="1.5"/>
<circle cx="498.1" cy="167.0" r="1.5"/>
<circle cx="498.1" cy="173.0" r="1.5"/>
<circle cx="498.1" cy="174.5" r="1.5"/>
<circle cx="498.1" cy="177.2" r="1.5"/>
<circle cx="498.1" cy="179.1" r="1.5"/>
<circle cx="498.1" cy="180.9" r="1.5"/>
<circle cx="498.1" cy="182.8" r="1.5"/>
<circle cx="498.1" cy="185.5" r="1.5"/>
<circle cx="498.1" cy="187.4" r="1.5"/>
<circle cx="498.1" cy="189.6" r="1.5"/>
<circle cx="507.6" cy="158.4" r="1.5"/>
<circle cx="507.6" cy="159.8" r="1.5"/>
<circle cx="507.6" cy="163.0" r="1.5"/>
<circle cx="507.6" cy="169.4" r="1.5"/>
<circle cx="507.6" cy="171.1" r="1.5"/>
<circle cx="507.6" cy="173.1" r="1.5"/>
<circle cx="507.6" cy="175.5" r="1.5"/>
<circle cx="507.6" cy="176.9" r="1.5"/>
<circle cx="507.6" cy="178.9" r="1.5"/>
<circle cx="507.6" cy="181.1" r="1.5"/>
<circle cx="507.6" cy="184.0" r="1.5"/>
<circle cx="507.6" cy="186.5" r="1.5"/>
<circle cx="507.6" cy="189.0" r="1.5"/>
<circle cx="507.6" cy="191.0" r="1.5"/>
<circle cx="507.6" cy="196.0" r="1.5"/>
<circle cx="517.0" cy="156.4" r="1.5"/>
<circle cx="517.0" cy="162.6" r="1.5"/>
<circle cx="517.0" cy="165.5" r="1.5"/>
<circle cx="517.0" cy="169.5" r="1.5"/>
<circle cx="517.0" cy="171.6" r="1.5"/>
<circle cx="517.0" cy="173.4" r="1.5"/>
<circle cx="517.0" cy="175.7" r="1.5"/>
<circle cx="517.0" cy="179.6" r="1.5"/>
<circle cx="517.0" cy="181.7" r="1.5"/>
<circle cx="517.0" cy="184.7" r="1.5"/>
<circle cx="517.0" cy="186.2" r="1.5"/>
<circle cx="517.0" cy="188.9" r="1.5"/>
<circle cx="517.0" cy="191.1" r="1.5"/>
<circle cx="517.0" cy="197.3" r="1.5"/>
<circle cx="517.0" cy="199.6" r="1.5"/>
<circle cx="526.5" cy="162.0" r="1.5"/>
<circle cx="526.5" cy="167.0" r="1.5"/>
<circle cx="526.5" cy="172.6" r="1.5"/>
<circle cx="526.5" cy="176.9" r="1.5"/>
<circle cx="526.5" cy="179.5" r="1.5"/>
<circle cx="526.5" cy="182.3" r="1.5"/>
<circle cx="526.5" cy="184.7" r="1.5"/>
<circle cx="526.5" cy="186.8" r="1.5"/>
<circle cx="535.9" cy="138.5" r="1.5"/>
<circle cx="535.9" cy="163.2" r="1.5"/>
<circle cx="535.9" cy="168.1" r="1.5"/>
<circle cx="535.9" cy="170.3" r="1.5"/>
<circle cx="535.9" cy="173.4" r="1.5"/>
<circle cx="535.9" cy="175.9" r="1.5"/>
<circle cx="535.9" cy="181.0" r="1.5"/>
<circle cx="535.9" cy="182.5" r="1.5"/>
<circle cx="535.9" cy="190.5" r="1.5"/>
<circle cx="545.3" cy="159.0" r="1.5"/>
<circle cx="545.3" cy="171.2" r="1.5"/>
<circle cx="545.3" cy="176.9" r="1.5"/>
<circle cx="545.3" cy="182.0" r="1.5"/>
<circle cx="545.3" cy="185.4" r="1.5"/>
<circle cx="545.3" cy="194.0" r="1.5"/>
<circle cx="545.3" cy="202.4" r="1.5"/>
<circle cx="564.2" cy="147.9" r="1.5"/>
<circle cx="564.2" cy="173.4" r="1.5"/>
<circle cx="564.2" cy="176.9" r="1.5"/>
<circle cx="573.7" cy="134.2" r="1.5"/>
</g>
<g fill="none" stroke="#2b2728" stroke-width="1.1" stroke-linecap="butt">
<path d="M68.00 335.7v-3.7M68.00 9.0v3.7M77.83 335.7v-3.7M77.83 9.0v3.7M87.66 335.7v-3.7M87.66 9.0v3.7M97.49 335.7v-3.7M97.49 9.0v3.7M107.32 335.7v-3.7M107.32 9.0v3.7M117.15 335.7v-3.7M117.15 9.0v3.7M126.98 335.7v-3.7M126.98 9.0v3.7M136.81 335.7v-3.7M136.81 9.0v3.7M146.64 335.7v-3.7M146.64 9.0v3.7M156.47 335.7v-3.7M156.47 9.0v3.7M166.30 335.7v-3.7M166.30 9.0v3.7M176.13 335.7v-3.7M176.13 9.0v3.7M185.96 335.7v-3.7M185.96 9.0v3.7M195.79 335.7v-3.7M195.79 9.0v3.7M205.62 335.7v-3.7M205.62 9.0v3.7M215.45 335.7v-3.7M215.45 9.0v3.7M225.28 335.7v-3.7M225.28 9.0v3.7M235.11 335.7v-3.7M235.11 9.0v3.7M244.94 335.7v-3.7M244.94 9.0v3.7M254.77 335.7v-3.7M254.77 9.0v3.7M264.60 335.7v-3.7M264.60 9.0v3.7M274.43 335.7v-3.7M274.43 9.0v3.7M284.26 335.7v-3.7M284.26 9.0v3.7M68.00 335.7v-6.6M68.00 9.0v6.6M117.15 335.7v-6.6M117.15 9.0v6.6M166.30 335.7v-6.6M166.30 9.0v6.6M215.45 335.7v-6.6M215.45 9.0v6.6M264.60 335.7v-6.6M264.60 9.0v6.6M68.0 335.73h3.7M284.4 335.73h-3.7M68.0 319.39h3.7M284.4 319.39h-3.7M68.0 303.06h3.7M284.4 303.06h-3.7M68.0 286.73h3.7M284.4 286.73h-3.7M68.0 270.39h3.7M284.4 270.39h-3.7M68.0 254.06h3.7M284.4 254.06h-3.7M68.0 237.73h3.7M284.4 237.73h-3.7M68.0 221.40h3.7M284.4 221.40h-3.7M68.0 205.06h3.7M284.4 205.06h-3.7M68.0 188.73h3.7M284.4 188.73h-3.7M68.0 172.40h3.7M284.4 172.40h-3.7M68.0 156.07h3.7M284.4 156.07h-3.7M68.0 139.73h3.7M284.4 139.73h-3.7M68.0 123.40h3.7M284.4 123.40h-3.7M68.0 107.07h3.7M284.4 107.07h-3.7M68.0 90.74h3.7M284.4 90.74h-3.7M68.0 74.41h3.7M284.4 74.41h-3.7M68.0 58.07h3.7M284.4 58.07h-3.7M68.0 41.74h3.7M284.4 41.74h-3.7M68.0 25.41h3.7M284.4 25.41h-3.7M68.0 9.08h3.7M284.4 9.08h-3.7M68.0 335.73h6.6M284.4 335.73h-6.6M68.0 254.06h6.6M284.4 254.06h-6.6M68.0 172.40h6.6M284.4 172.40h-6.6M68.0 90.74h6.6M284.4 90.74h-6.6M68.0 9.08h6.6M284.4 9.08h-6.6"/><path d="M366.12 335.7v-3.7M366.12 9.0v3.7M375.58 335.7v-3.7M375.58 9.0v3.7M385.04 335.7v-3.7M385.04 9.0v3.7M394.50 335.7v-3.7M394.50 9.0v3.7M403.96 335.7v-3.7M403.96 9.0v3.7M413.42 335.7v-3.7M413.42 9.0v3.7M422.88 335.7v-3.7M422.88 9.0v3.7M432.34 335.7v-3.7M432.34 9.0v3.7M441.80 335.7v-3.7M441.80 9.0v3.7M451.26 335.7v-3.7M451.26 9.0v3.7M460.72 335.7v-3.7M460.72 9.0v3.7M470.18 335.7v-3.7M470.18 9.0v3.7M479.64 335.7v-3.7M479.64 9.0v3.7M489.10 335.7v-3.7M489.10 9.0v3.7M498.56 335.7v-3.7M498.56 9.0v3.7M508.02 335.7v-3.7M508.02 9.0v3.7M517.48 335.7v-3.7M517.48 9.0v3.7M526.94 335.7v-3.7M526.94 9.0v3.7M536.40 335.7v-3.7M536.40 9.0v3.7M545.86 335.7v-3.7M545.86 9.0v3.7M555.32 335.7v-3.7M555.32 9.0v3.7M564.78 335.7v-3.7M564.78 9.0v3.7M574.24 335.7v-3.7M574.24 9.0v3.7M583.70 335.7v-3.7M583.70 9.0v3.7M394.50 335.7v-6.6M394.50 9.0v6.6M441.80 335.7v-6.6M441.80 9.0v6.6M489.10 335.7v-6.6M489.10 9.0v6.6M536.40 335.7v-6.6M536.40 9.0v6.6M583.70 335.7v-6.6M583.70 9.0v6.6M366.6 335.73h3.7M583.7 335.73h-3.7M366.6 303.06h3.7M583.7 303.06h-3.7M366.6 270.39h3.7M583.7 270.39h-3.7M366.6 237.73h3.7M583.7 237.73h-3.7M366.6 205.06h3.7M583.7 205.06h-3.7M366.6 172.40h3.7M583.7 172.40h-3.7M366.6 139.73h3.7M583.7 139.73h-3.7M366.6 107.07h3.7M583.7 107.07h-3.7M366.6 74.41h3.7M583.7 74.41h-3.7M366.6 41.74h3.7M583.7 41.74h-3.7M366.6 9.08h3.7M583.7 9.08h-3.7M366.6 303.06h6.6M583.7 303.06h-6.6M366.6 237.73h6.6M583.7 237.73h-6.6M366.6 172.40h6.6M583.7 172.40h-6.6M366.6 107.07h6.6M583.7 107.07h-6.6M366.6 41.74h6.6M583.7 41.74h-6.6"/>
<rect x="68.0" y="9.0" width="216.40" height="326.70" stroke-width="1.35"/>
<rect x="366.6" y="9.0" width="217.10" height="326.70" stroke-width="1.35"/>
</g>
<g font-family='"Liberation Sans", Arial, Helvetica, sans-serif' font-size="14.7" fill="#2b2728" stroke="#2b2728" stroke-width="0.3">
<text x="61.2" y="14.3" text-anchor="end">0.50</text>
<text x="61.2" y="95.9" text-anchor="end">0.25</text>
<text x="61.2" y="177.6" text-anchor="end">0</text>
<text x="61.2" y="259.3" text-anchor="end">-0.25</text>
<text x="61.2" y="340.9" text-anchor="end">-0.50</text>
<text x="68.4" y="354.6" text-anchor="middle"><tspan font-size="12" dy="-0.5">-</tspan><tspan dy="0.5" dx="0.3">2</tspan></text>
<text x="117.6" y="354.6" text-anchor="middle"><tspan font-size="12" dy="-0.5">-</tspan><tspan dy="0.5" dx="0.3">1</tspan></text>
<text x="166.3" y="354.6" text-anchor="middle">0</text>
<text x="215.5" y="354.6" text-anchor="middle">1</text>
<text x="264.6" y="354.6" text-anchor="middle">2</text>
<text x="360.3" y="46.9" text-anchor="end">0.4</text>
<text x="360.3" y="112.3" text-anchor="end">0.2</text>
<text x="360.3" y="177.6" text-anchor="end">0</text>
<text x="360.3" y="242.9" text-anchor="end">-0.2</text>
<text x="360.3" y="308.3" text-anchor="end">-0.4</text>
<text x="395.3" y="354.6" text-anchor="middle">10.0</text>
<text x="442.6" y="354.6" text-anchor="middle">10.5</text>
<text x="489.9" y="354.6" text-anchor="middle">11.0</text>
<text x="537.2" y="354.6" text-anchor="middle">11.5</text>
<text x="584.5" y="354.6" text-anchor="middle">12.0</text>
<text x="87.4" y="377.5" font-size="14.72">log (sSFR/sSFR(ms,z,M<tspan font-size="8.6" dy="4.0" dx="0.3">*</tspan><tspan dy="-4.0" dx="0.4">) )</tspan></text>
<text x="430.7" y="377.6" font-size="14.6">log(M<tspan font-size="8.6" dy="4.0" dx="0.6">*</tspan><tspan dy="-4.0" dx="0.4"> (M</tspan><tspan font-size="9.8" dy="6.2" dx="0.4">sun</tspan><tspan dy="-6.2" dx="0.6">))</tspan></text>
<g transform="rotate(-90)">
<text x="-233.2" y="12.7" font-size="14.8">log ( T</text>
<text x="-190.1" y="19.9" font-size="9.7">dust</text>
<text x="-171.6" y="18.5" font-size="8.2">*</text>
<text x="-168.2" y="12.7" font-size="14.8">(K)/f</text>
<text x="-140.1" y="19.9" font-size="10.1">3</text>
<text x="-133.2" y="12.7" font-size="14.8">(z))</text>
<text x="-307.9" y="319.6" font-size="14.8">log(T</text>
<text x="-273.3" y="326.8" font-size="9.7">dust</text>
<text x="-254.6" y="325.4" font-size="8.2">*</text>
<text x="-246.5" y="319.6" font-size="14.8">/ (f</text>
<text x="-229.2" y="326.8" font-size="10.1">3</text>
<text x="-223.0" y="319.6" font-size="14.8">(z)</text>
<text x="-201.6" y="319.6" font-size="12.5">×</text>
<text x="-190.2" y="319.6" font-size="14.8">g</text>
<text x="-182.4" y="326.8" font-size="10.1">3</text>
<text x="-175.8" y="319.6" font-size="14.8">(sSFR/sSFR(ms,z))))</text>
</g>
</g>
</svg>
</body></html>
